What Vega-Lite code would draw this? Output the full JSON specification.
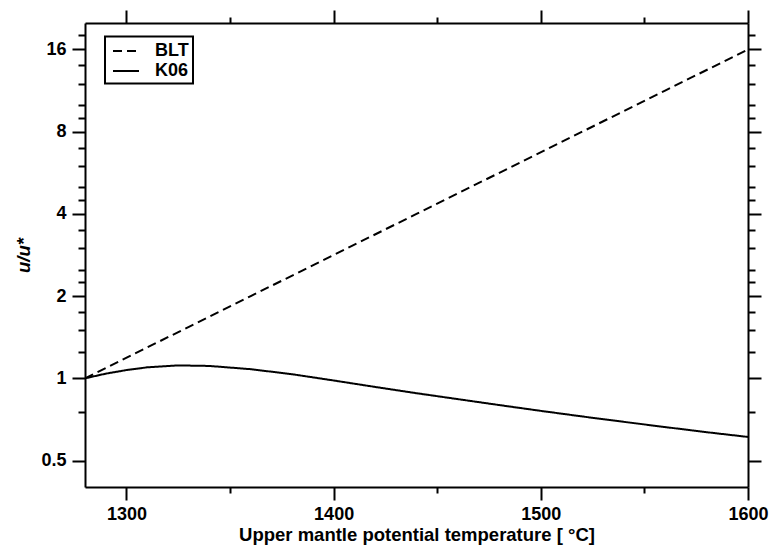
{
  "$schema": "https://vega.github.io/schema/vega-lite/v6.json",
  "autosize": {"type": "none"},
  "padding": {"left": 85, "top": 23, "right": 23, "bottom": 58},
  "width": 663,
  "height": 464,
  "background": "white",
  "config": {
    "view": {"stroke": null},
    "font": "Liberation Sans",
    "axis": {
      "grid": false,
      "domainColor": "black",
      "domainWidth": 2,
      "tickColor": "black",
      "tickWidth": 2,
      "labelFont": "Liberation Sans",
      "labelFontSize": 18,
      "labelFontWeight": "bold",
      "labelColor": "black",
      "titleFont": "Liberation Sans",
      "titleFontSize": 18.5,
      "titleFontWeight": "bold",
      "titleColor": "black",
      "labelOverlap": false,
      "labelFlush": false
    }
  },
  "data": {
    "values": [
      {"series": "BLT", "T": 1280, "u": 1.0},
      {"series": "BLT", "T": 1320, "u": 1.4142},
      {"series": "BLT", "T": 1360, "u": 2.0},
      {"series": "BLT", "T": 1400, "u": 2.8284},
      {"series": "BLT", "T": 1440, "u": 4.0},
      {"series": "BLT", "T": 1480, "u": 5.6569},
      {"series": "BLT", "T": 1520, "u": 8.0},
      {"series": "BLT", "T": 1560, "u": 11.3137},
      {"series": "BLT", "T": 1600, "u": 16.0},
      {"series": "K06", "T": 1280, "u": 1.0},
      {"series": "K06", "T": 1290, "u": 1.04},
      {"series": "K06", "T": 1300, "u": 1.072},
      {"series": "K06", "T": 1310, "u": 1.097},
      {"series": "K06", "T": 1325, "u": 1.115},
      {"series": "K06", "T": 1340, "u": 1.11},
      {"series": "K06", "T": 1360, "u": 1.08},
      {"series": "K06", "T": 1380, "u": 1.035},
      {"series": "K06", "T": 1400, "u": 0.982},
      {"series": "K06", "T": 1420, "u": 0.93},
      {"series": "K06", "T": 1440, "u": 0.882},
      {"series": "K06", "T": 1460, "u": 0.839},
      {"series": "K06", "T": 1480, "u": 0.798},
      {"series": "K06", "T": 1500, "u": 0.76},
      {"series": "K06", "T": 1520, "u": 0.725},
      {"series": "K06", "T": 1540, "u": 0.693},
      {"series": "K06", "T": 1560, "u": 0.663},
      {"series": "K06", "T": 1580, "u": 0.635},
      {"series": "K06", "T": 1600, "u": 0.61}
    ]
  },
  "layer": [
    {
      "mark": {"type": "line", "color": "black", "strokeWidth": 2, "clip": true},
      "encoding": {
        "x": {
          "field": "T", "type": "quantitative",
          "scale": {"domain": [1280, 1600], "nice": false, "zero": false},
          "axis": {
            "orient": "bottom",
            "values": [1300, 1350, 1400, 1450, 1500, 1550, 1600],
            "format": "d",
            "labelExpr": "datum.value % 100 === 0 ? datum.label : ''",
            "tickSize": {"condition": {"test": "datum.value % 100 === 0", "value": 13}, "value": 6},
            "labelPadding": 5,
            "title": "Upper mantle potential temperature [ °C]",
            "titlePadding": 2
          }
        },
        "y": {
          "field": "u", "type": "quantitative",
          "scale": {"type": "log", "base": 2, "domain": [0.4, 20], "nice": false, "zero": false},
          "axis": {
            "orient": "left",
            "values": [0.5, 0.75, 1, 1.25, 1.5, 1.75, 2, 2.25, 2.5, 3, 3.5, 4, 4.5, 5, 6, 7, 8, 9, 10, 12, 14, 16, 18],
            "format": "~g",
            "labelExpr": "indexof([0.5, 1, 2, 4, 8, 16], datum.value) >= 0 ? datum.label : ''",
            "tickSize": {"condition": {"test": "indexof([0.5, 1, 2, 4, 8, 16], datum.value) >= 0", "value": 13}, "value": 7},
            "labelPadding": 6,
            "title": "u/u*",
            "titleFontStyle": "italic",
            "titlePadding": 7
          }
        },
        "strokeDash": {
          "field": "series", "type": "nominal",
          "scale": {"domain": ["BLT", "K06"], "range": [[9, 5], [1, 0]]},
          "legend": {
            "title": null,
            "orient": "none",
            "legendX": 20,
            "legendY": 13.5,
            "strokeColor": "black",
            "padding": 3.5,
            "symbolType": "M-0.65,0H1.95",
            "symbolSize": 400,
            "symbolStrokeWidth": 2,
            "symbolStrokeColor": "black",
            "labelFont": "Liberation Sans",
            "labelFontSize": 18,
            "labelFontWeight": "bold",
            "labelColor": "black",
            "labelOffset": 24.5,
            "rowPadding": 0,
            "encode": {"legend": {"update": {"strokeWidth": {"value": 2}}}}
          }
        }
      }
    },
    {
      "mark": {"type": "line", "color": "black", "strokeOpacity": 0},
      "encoding": {
        "x": {
          "field": "T", "type": "quantitative",
          "axis": {
            "orient": "top",
            "values": [1300, 1350, 1400, 1450, 1500, 1550, 1600],
            "labels": false,
            "title": null,
            "tickSize": {"condition": {"test": "datum.value % 100 === 0", "value": 13}, "value": 6}
          }
        },
        "y": {
          "field": "u", "type": "quantitative",
          "axis": {
            "orient": "right",
            "values": [0.5, 0.75, 1, 1.25, 1.5, 1.75, 2, 2.25, 2.5, 3, 3.5, 4, 4.5, 5, 6, 7, 8, 9, 10, 12, 14, 16, 18],
            "labels": false,
            "title": null,
            "tickSize": {"condition": {"test": "indexof([0.5, 1, 2, 4, 8, 16], datum.value) >= 0", "value": 13}, "value": 7}
          }
        },
        "detail": {"field": "series", "type": "nominal"}
      }
    }
  ],
  "resolve": {"axis": {"x": "independent", "y": "independent"}}
}
